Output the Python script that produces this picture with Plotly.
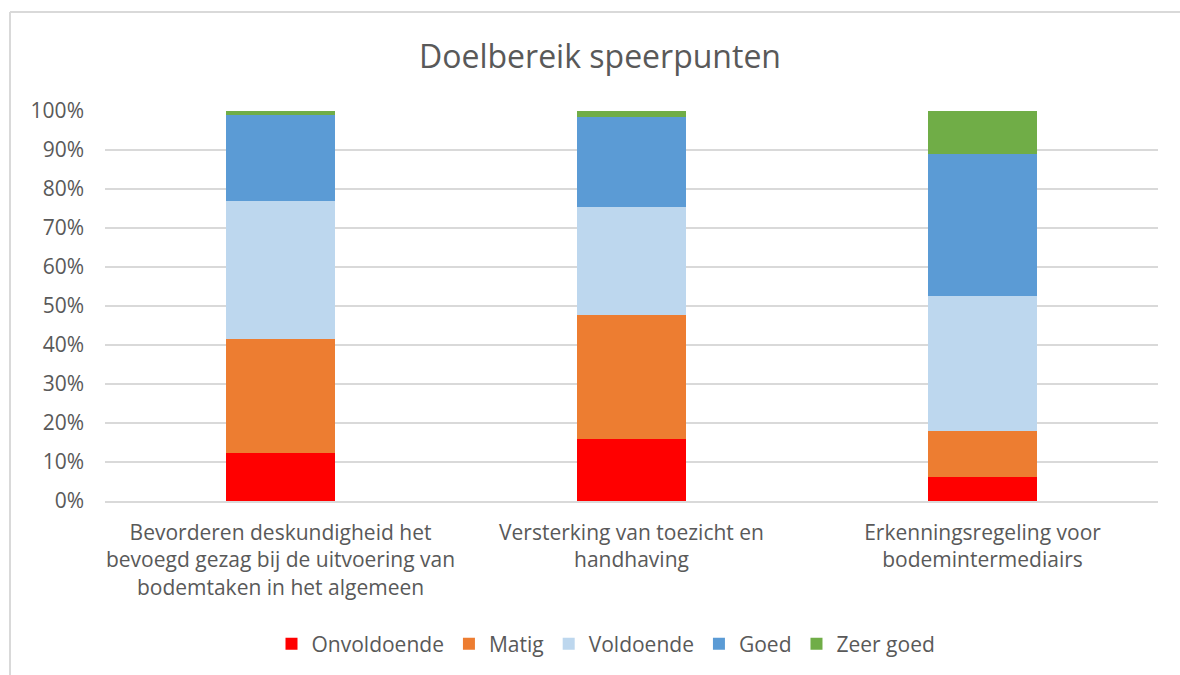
import plotly.graph_objects as go

categories = [
    "Bevorderen deskundigheid het<br>bevoegd gezag bij de uitvoering van<br>bodemtaken in het algemeen",
    "Versterking van toezicht en<br>handhaving",
    "Erkenningsregeling voor<br>bodemintermediairs",
]
series_names = ["Onvoldoende", "Matig", "Voldoende", "Goed", "Zeer goed"]
onvoldoende = [12.4, 16.0, 6.2]
matig = [29.2, 31.6, 11.7]
voldoende = [35.2, 27.9, 34.6]
goed = [22.1, 23.0, 36.5]
zeer_goed = [1.1, 1.5, 11.0]
colors = ["#FF0000", "#ED7D31", "#BDD7EE", "#5B9BD5", "#70AD47"]
tick_vals = [0, 10, 20, 30, 40, 50, 60, 70, 80, 90, 100]
tick_text = [f"{v}%" for v in tick_vals]

values = [onvoldoende, matig, voldoende, goed, zeer_goed]
FONT = "Open Sans"
GRAY = "#595959"

fig = go.Figure()
for name, vals, col in zip(series_names, values, colors):
    fig.add_trace(go.Bar(x=categories, y=vals, name=name, marker=dict(color=col, line=dict(width=0))))

L, R, T, B = 105, 22, 111, 174
W, H = 1180, 675
pw = W - L - R
ph = H - T - B

def px(x):
    return (x - L) / pw

def py(y):
    return (H - B - y) / ph

fig.update_layout(
    width=W, height=H,
    barmode="stack",
    bargap=0.687,
    margin=dict(l=L, r=R, t=T, b=B, autoexpand=False),
    paper_bgcolor="white",
    plot_bgcolor="white",
    font=dict(family=FONT, color=GRAY, size=21),
    title=dict(text="Doelbereik speerpunten", x=px(600), xanchor="center", xref="paper",
               y=1 - 57 / H, yanchor="middle", font=dict(size=32, color=GRAY, family=FONT)),
    xaxis=dict(showgrid=False, showline=True, linecolor="#D9D9D9", linewidth=1.5,
               tickfont=dict(size=21, color=GRAY), ticks="", ticklabelstandoff=12),
    yaxis=dict(range=[0, 100], tickvals=tick_vals, ticktext=tick_text,
               showgrid=True, gridcolor="#D9D9D9", gridwidth=1.5, zeroline=False,
               tickfont=dict(size=21, color=GRAY), ticks="", ticklabelstandoff=20),
    legend=dict(orientation="h", x=px(606), xanchor="center", y=py(644), yanchor="middle",
                font=dict(size=21, color=GRAY), itemsizing="constant", traceorder="normal",
                itemwidth=30),
    shapes=[
        dict(type="line", xref="paper", yref="paper", x0=px(10), x1=px(1180), y0=py(12), y1=py(12),
             line=dict(color="#D9D9D9", width=2)),
        dict(type="line", xref="paper", yref="paper", x0=px(10), x1=px(10), y0=py(12), y1=py(680),
             line=dict(color="#D9D9D9", width=2)),
    ],
)

fig.write_html("out.html", config={"displayModeBar": False},
               post_script="document.body.style.margin='0';document.body.style.overflow='hidden';")
